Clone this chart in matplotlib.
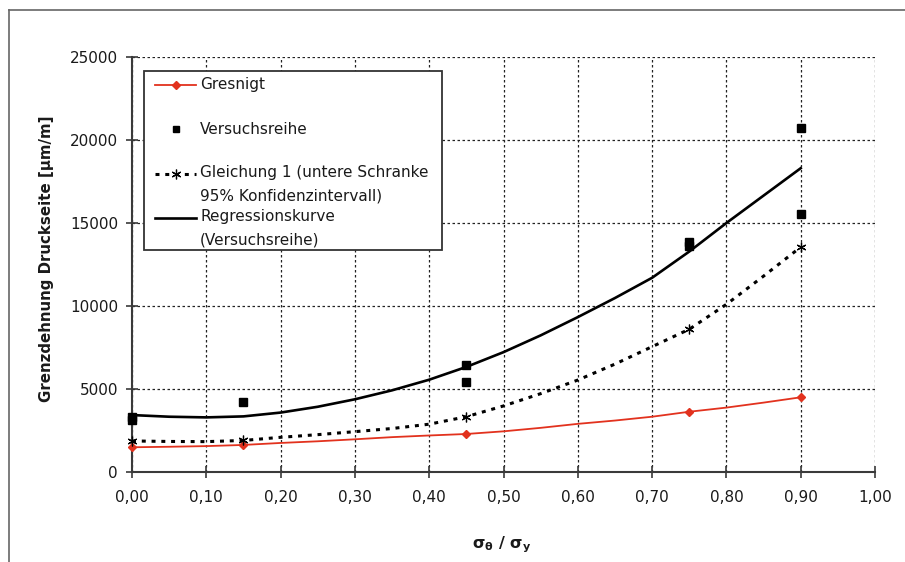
import matplotlib
matplotlib.use("Agg")
import matplotlib.pyplot as plt
from matplotlib.lines import Line2D
from matplotlib.patches import Rectangle
from matplotlib.ticker import FixedLocator, FuncFormatter

plt.rcParams['font.family'] = ['DejaVu Sans']
plt.rcParams['mathtext.default'] = 'bf'

# curves every 0.05
x_curve = [0.00, 0.05, 0.10, 0.15, 0.20, 0.25, 0.30, 0.35, 0.40, 0.45,
           0.50, 0.55, 0.60, 0.65, 0.70, 0.75, 0.80, 0.85, 0.90]
gresnigt = [1490, 1520, 1560, 1630, 1750, 1850, 1970, 2100, 2200, 2290,
            2450, 2660, 2900, 3100, 3330, 3630, 3880, 4180, 4500]
gleichung1 = [1870, 1840, 1830, 1900, 2090, 2250, 2430, 2620, 2880, 3330,
              3980, 4720, 5540, 6500, 7550, 8600, 10100, 11800, 13550]
regression = [3430, 3330, 3290, 3350, 3580, 3930, 4380, 4920, 5560, 6330,
              7220, 8230, 9330, 10480, 11700, 13280, 15000, 16650, 18300]
# which curve points are the computed values (get markers)
mark_idx = [0, 3, 9, 15, 18]

# test series
versuch_x = [0.00, 0.00, 0.15, 0.45, 0.45, 0.75, 0.75, 0.90, 0.90]
versuch_y = [3150, 3320, 4200, 6450, 5420, 13600, 13850, 20700, 15520]

x_ticks = [0.0, 0.1, 0.2, 0.3, 0.4, 0.5, 0.6, 0.7, 0.8, 0.9, 1.0]
y_ticks = [0, 5000, 10000, 15000, 20000, 25000]

labels = ["Gresnigt", "Versuchsreihe",
          "Gleichung 1 (untere Schranke\n95% Konfidenzintervall)",
          "Regressionskurve\n(Versuchsreihe)"]

red = '#e2321e'
dots = (0, (1.3, 1.9))

fig = plt.figure(figsize=(9.05, 5.62), dpi=100)
ax = fig.add_axes([132 / 905, 1 - 472 / 562, 743 / 905, 415 / 562])

ax.plot(x_curve, gresnigt, color=red, lw=1.3, marker='D', ms=4.5,
        markevery=mark_idx, clip_on=False, zorder=4)
ax.plot(x_curve, gleichung1, color='black', lw=2.2, linestyle=dots,
        marker=(6, 2, 0), ms=7, mew=0.9, markevery=mark_idx, clip_on=False, zorder=4)
ax.plot(x_curve, regression, color='black', lw=1.9, clip_on=False, zorder=4)
ax.plot(versuch_x, versuch_y, linestyle='none', marker='s', ms=5.5,
        color='black', clip_on=False, zorder=5)

ax.set_xlim(0, 1)
ax.set_ylim(0, 25000)
ax.xaxis.set_major_locator(FixedLocator(x_ticks))
ax.yaxis.set_major_locator(FixedLocator(y_ticks))
ax.xaxis.set_major_formatter(FuncFormatter(lambda v, p: f"{v:.2f}".replace('.', ',')))
ax.yaxis.set_major_formatter(FuncFormatter(lambda v, p: f"{v:.0f}"))

ax.grid(True, color='#222222', linestyle=(0, (2, 2)), linewidth=0.9)
for s in ['top', 'right']:
    ax.spines[s].set_visible(False)
for s in ['left', 'bottom']:
    ax.spines[s].set_color('#3a3a3a')
    ax.spines[s].set_linewidth(1.5)
ax.tick_params(direction='inout', length=8, width=1.2, color='#3a3a3a',
               labelsize=11, labelcolor='#1a1a1a')
ax.tick_params(axis='x', pad=9)
ax.tick_params(axis='y', pad=6)

ax.set_ylabel("Grenzdehnung Druckseite [µm/m]", fontsize=10.8, fontweight='bold',
              color='#1a1a1a')
ax.yaxis.set_label_coords(-0.105, 0.513)
ax.set_xlabel("σ$_θ$ / σ$_y$", fontsize=11.5, fontweight='bold', color='#1a1a1a')
ax.xaxis.set_label_coords(0.497, -0.15)


# manual legend, pixel positions of the picture -> axes coordinates
def px(x, y):
    return (x - 132) / 743, (472 - y) / 415


x0, y0 = px(144, 250)
x1, y1 = px(442, 71)
ax.add_patch(Rectangle((x0, y0), x1 - x0, y1 - y0, transform=ax.transAxes,
                       facecolor='white', edgecolor='#333333', lw=1.3,
                       clip_on=False, zorder=6))

hx0, _ = px(155, 0)
hx1, _ = px(196, 0)
hxm = (hx0 + hx1) / 2
tx, _ = px(200, 0)
rows = [85, 129, 184, 228]
handle_rows = [85, 129, 174, 218]

kw = dict(transform=ax.transAxes, clip_on=False, zorder=7)
_, hy = px(0, handle_rows[0])
ax.plot([hx0, hx1], [hy, hy], color=red, lw=1.3, **kw)
ax.plot([hxm], [hy], color=red, marker='D', ms=4.5, **kw)
_, hy = px(0, handle_rows[1])
ax.plot([hxm], [hy], color='black', marker='s', ms=5, **kw)
_, hy = px(0, handle_rows[2])
ax.plot([hx0, hx1], [hy, hy], color='black', lw=2.2, linestyle=dots, **kw)
ax.plot([hxm], [hy], color='black', marker=(6, 2, 0), ms=7, mew=0.9, **kw)
_, hy = px(0, handle_rows[3])
ax.plot([hx0, hx1], [hy, hy], color='black', lw=1.9, **kw)

for lab, r in zip(labels, rows):
    _, ty = px(0, r)
    ax.text(tx, ty, lab, transform=ax.transAxes, fontsize=11, va='center',
            ha='left', linespacing=1.72, color='#1a1a1a', zorder=8)

# outer frame of the figure
fx = 9 / 905
fy = 1 - 10 / 562
fig.add_artist(Line2D([fx, fx], [0, fy], color='#666666', lw=1.2))
fig.add_artist(Line2D([fx, 1], [fy, fy], color='#666666', lw=1.2))

fig.savefig("out.png", dpi=100)
